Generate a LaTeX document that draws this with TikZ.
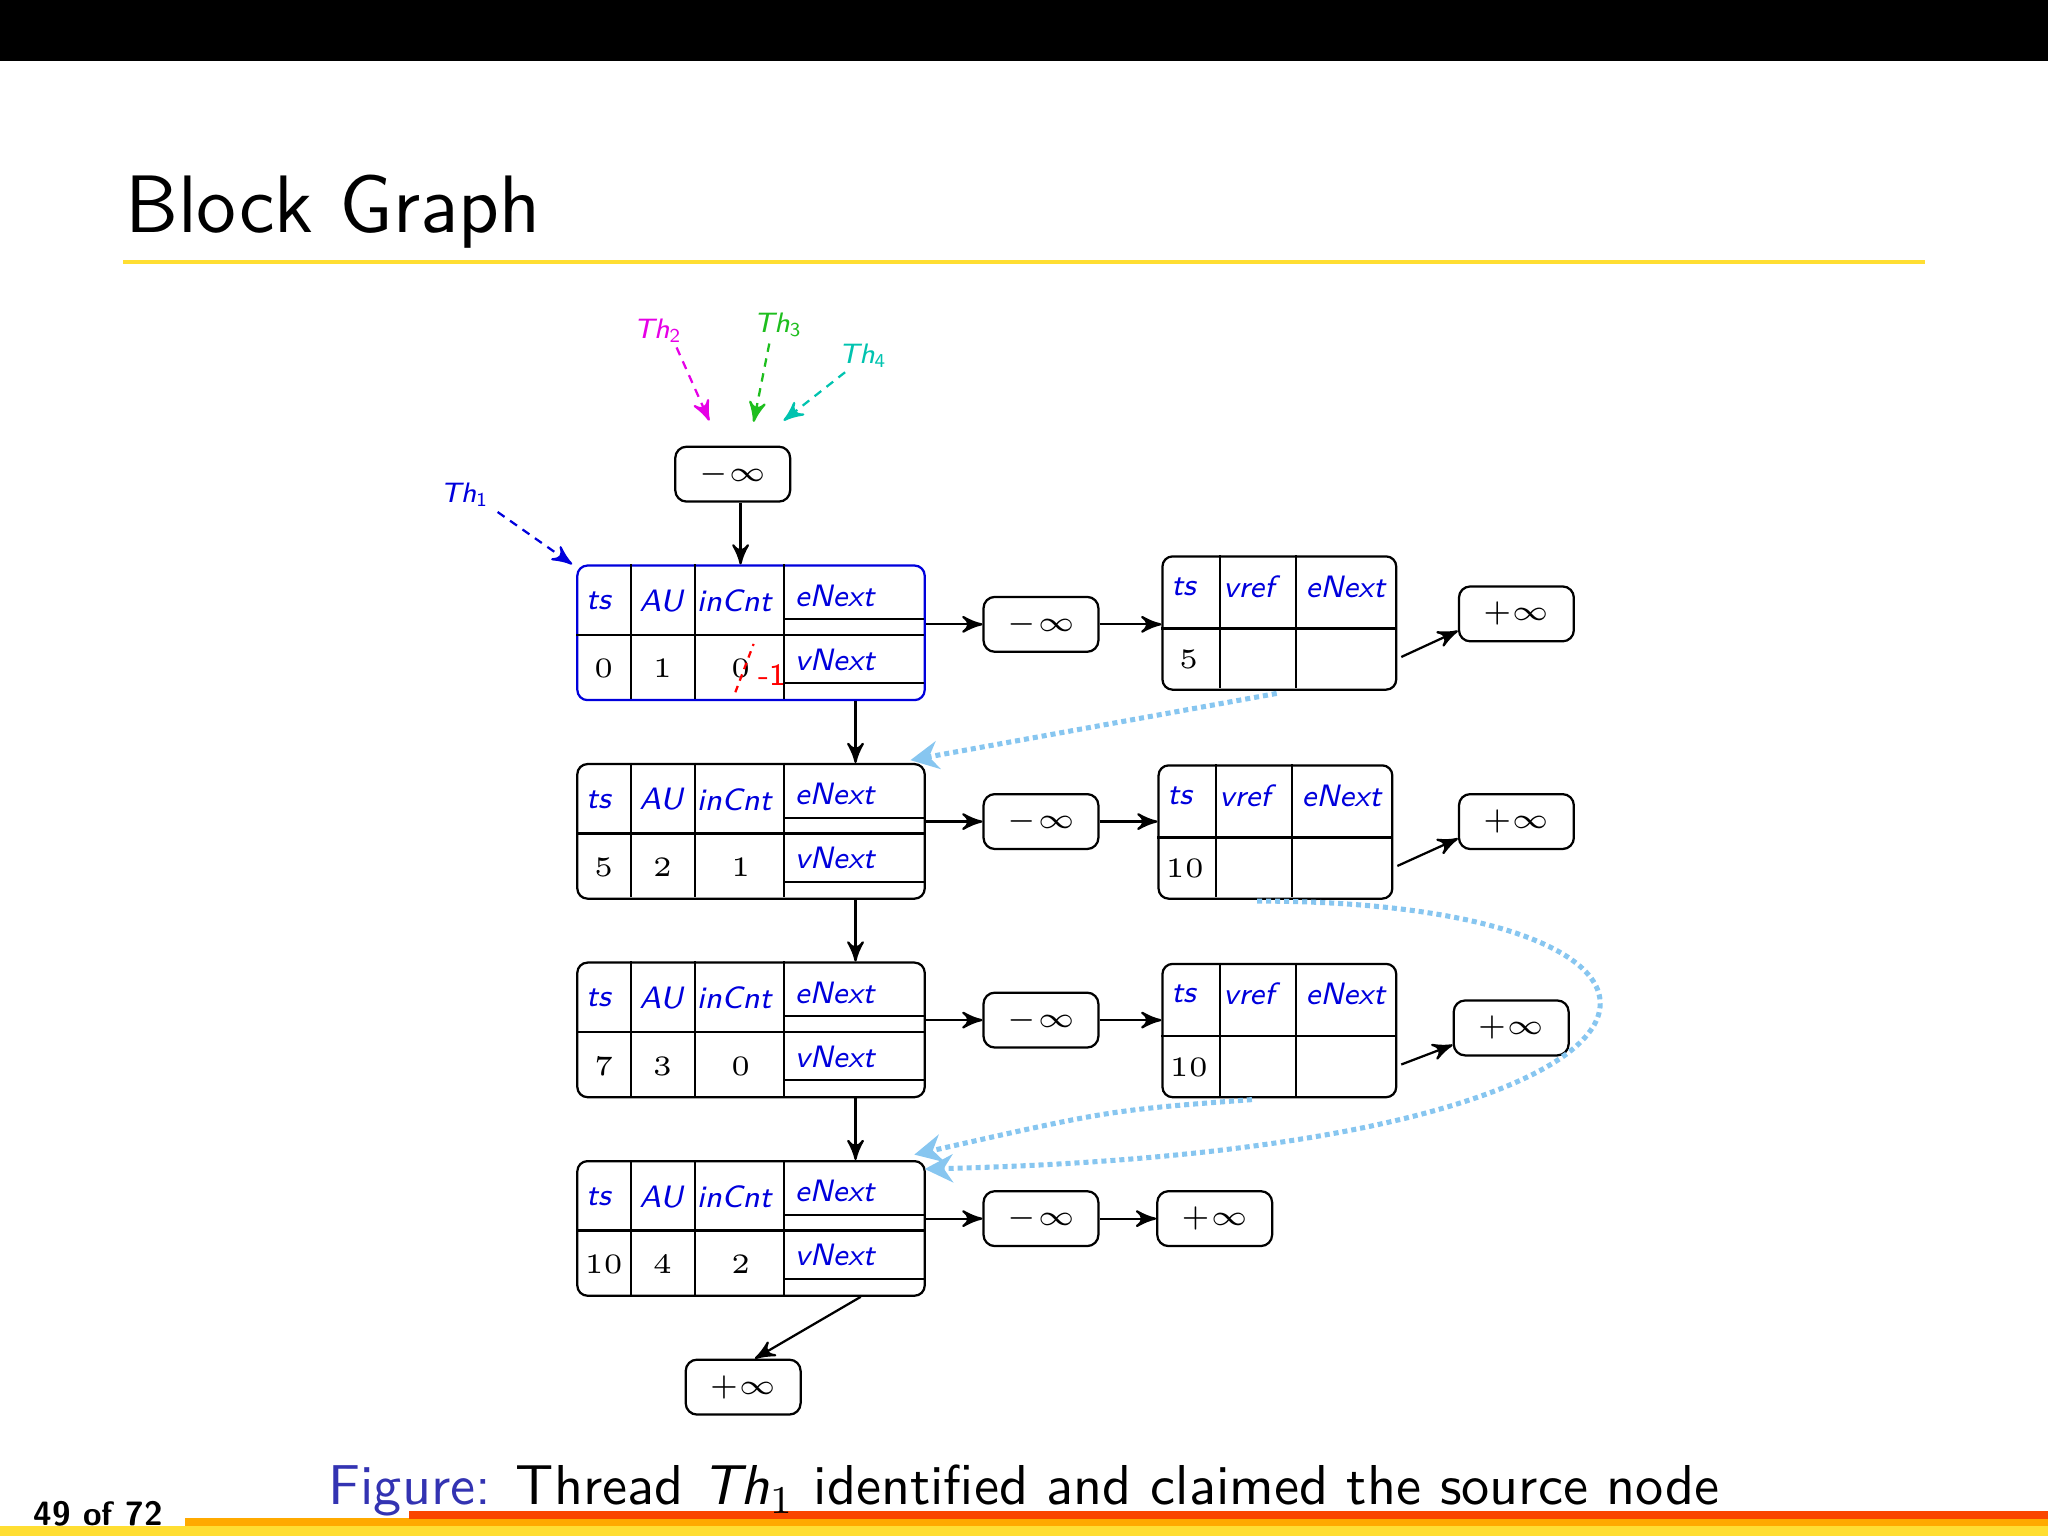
\documentclass[tikz,border=0pt]{standalone}
\usetikzlibrary{arrows, arrows.meta, positioning, calc}
\renewcommand{\familydefault}{\sfdefault}

\definecolor{fblue}{RGB}{0,0,220}
\definecolor{skyb}{RGB}{135,198,240}
\definecolor{thmag}{RGB}{230,0,230}
\definecolor{thgrn}{RGB}{30,190,30}
\definecolor{thcyn}{RGB}{0,195,175}
\definecolor{barylw}{RGB}{255,222,50}
\definecolor{barorg}{RGB}{255,170,0}
\definecolor{barred}{RGB}{250,70,0}
\definecolor{capblue}{RGB}{51,51,178}

\newcommand{\thsub}[1]{\raisebox{-0.7pt}{\fontsize{3.5}{4}\selectfont\upshape#1}}

\tikzset{
  blk/.style={draw, rounded corners=1.8pt, minimum width=2.171cm, minimum height=0.841cm, inner sep=0pt},
  vtx/.style={draw, rounded corners=1.8pt, minimum width=1.461cm, minimum height=0.833cm, inner sep=0pt},
  inf/.style={draw, rounded corners=2pt, minimum width=0.718cm, minimum height=0.343cm, inner sep=0pt, font=\fontsize{5.5}{6}\selectfont},
  lbl/.style={text=fblue, font=\fontsize{5.5}{6}\selectfont\itshape},
  val/.style={font=\fontsize{5.5}{6}\selectfont},
  thl/.style={font=\fontsize{5}{6}\selectfont\itshape},
  ptr/.style={->, >=stealth'},
  claim/.style={->, >=stealth', dash pattern=on 1.5pt off 1.2pt},
  hop/.style={-{Stealth[length=5pt,width=5pt]}, draw=skyb, line width=0.9pt, dash pattern=on 0.9pt off 0.7pt}
}

% block of the graph: name, left, top, ts, AU, inCnt, outline style
\newcommand{\blockrow}[7]{%
  \node[blk,#7] (#1) at (#2+133,#3+51.5) {};
  \begin{scope}[shift={(#1.north west)}]
    \draw (42,0) -- (42,103) (91,0) -- (91,103) (159,0) -- (159,103)
          (0,54) -- (266,54) (159,42) -- (266,42) (159,91) -- (266,91);
    \node[lbl] at (17,28) {ts};
    \node[lbl] at (65,28) {AU};
    \node[lbl] at (121,28) {inCnt};
    \node[lbl] at (198,24) {eNext};
    \node[lbl] at (198,73) {vNext};
    \node[val] at (21,80) {$#4$};
    \node[val] at (66,80) {$#5$};
    \node[val] at (126,80) {$#6$};
  \end{scope}}

% vertex table: name, left, top, ts
\newcommand{\vtxrow}[4]{%
  \node[vtx] (#1) at (#2+89.5,#3+51) {};
  \begin{scope}[shift={(#1.north west)}]
    \draw (45,0) -- (45,102) (103,0) -- (103,102) (0,56) -- (179,56);
    \node[lbl] at (17,24) {ts};
    \node[lbl] at (67,24) {vref};
    \node[lbl] at (141,24) {eNext};
    \node[val] at (21,80) {$#4$};
  \end{scope}}

\begin{document}
\begin{tikzpicture}[x=0.008163cm, y=-0.008163cm]

  % slide frame
  \useasboundingbox (0,0) rectangle (1568,1176);
  \fill[black] (0,0) rectangle (1568,47);
  \node[anchor=base west, inner sep=0pt, font=\fontsize{14.5}{16}\selectfont] (title) at (95,178) {Block Graph};
  \fill[barylw] (94,199) rectangle (1474,202);
  \fill[barylw] (0,1168) rectangle (1568,1176);
  \fill[barorg] (142,1162) rectangle (1568,1168);
  \fill[barred] (313,1157) rectangle (1568,1163);
  \node[anchor=base west, inner sep=0pt, font=\fontsize{6}{7}\selectfont\bfseries] (pg) at (25,1168) {49 of 72};
  \node[anchor=base, inner sep=0pt, font=\fontsize{10}{12}\selectfont] (cap) at (784,1152)
    {\textcolor{capblue}{Figure:} Thread \textit{Th}$_1$ identified and claimed the source node};

  % blocks
  \blockrow{b1}{442}{433}{0}{1}{0}{draw=fblue}
  \blockrow{b2}{442}{585}{5}{2}{1}{}
  \blockrow{b3}{442}{737}{7}{3}{0}{}
  \blockrow{b4}{442}{889}{10}{4}{2}{}

  % vertex tables
  \vtxrow{v1}{890}{426}{5}
  \vtxrow{v2}{887}{586}{10}
  \vtxrow{v3}{890}{738}{10}

  % sentinels
  \node[inf] (t)  at (561,363)  {$-\infty$};
  \node[inf] (m1) at (797,478)  {$-\infty$};
  \node[inf] (m2) at (797,629)  {$-\infty$};
  \node[inf] (m3) at (797,781)  {$-\infty$};
  \node[inf] (m4) at (797,933)  {$-\infty$};
  \node[inf] (p1) at (1161,470) {$+\infty$};
  \node[inf] (p2) at (1161,629) {$+\infty$};
  \node[inf] (p3) at (1157,787) {$+\infty$};
  \node[inf] (p4) at (930,933)  {$+\infty$};
  \node[inf] (q)  at (569,1062) {$+\infty$};

  % decrement of inCnt
  \draw[red, dash pattern=on 1.2pt off 1pt] (563,530) -- (577,493);
  \node[val, text=red] (dec) at (591,517) {-1};

  % edges
  \draw[ptr] ($(t.south)+(6,0)$) -- ($(t.south |- b1.north)+(6,0)$);
  \draw[ptr] ($(b1.south)+(80,0)$) -- ($(b2.north)+(80,0)$);
  \draw[ptr] ($(b2.south)+(80,0)$) -- ($(b3.north)+(80,0)$);
  \draw[ptr] ($(b3.south)+(80,0)$) -- ($(b4.north)+(80,0)$);
  \draw[ptr] ($(b4.south)+(84,0)$) -- ($(q.north)+(9,0)$);
  \foreach \i in {1,2,3,4}{
    \draw[ptr] (b\i.east |- m\i) -- (m\i);
  }
  \draw[ptr] (m1) -- (v1.west |- m1);
  \draw[ptr] (m2) -- (v2.west |- m2);
  \draw[ptr] (m3) -- (v3.west |- m3);
  \draw[ptr] (m4) -- (p4);
  \foreach \i in {1,2,3}{
    \draw[ptr] ($(v\i.east)+(3,26)$) -- ($(p\i.west)+(0,13)$);
  }

  % threads
  \node[thl, text=fblue] (th1) at (355,379) {Th\thsub{1}};
  \node[thl, text=thmag] (th2) at (503,253) {Th\thsub{2}};
  \node[thl, text=thgrn] (th3) at (595,249) {Th\thsub{3}};
  \node[thl, text=thcyn] (th4) at (660,272) {Th\thsub{4}};
  \coordinate (c1) at (438,432);
  \coordinate (c2) at (543,322);
  \coordinate (c3) at (577,323);
  \coordinate (c4) at (600,322);
  \draw[claim, fblue] (381,392) -- (c1);
  \draw[claim, thmag] (518,266) -- (c2);
  \draw[claim, thgrn] (589,263) -- (c3);
  \draw[claim, thcyn] (647,285) -- (c4);

  % vref links
  \coordinate (e1) at (697,582);
  \coordinate (e2) at (708,895);
  \coordinate (e3) at (700,884);
  \draw[hop] ($(v1.south)+(-2,2)$) -- (e1);
  \draw[hop] ($(v2.south)+(-14,1)$) .. controls (1350,690) and (1340,880) .. (e2);
  \draw[hop] ($(v3.south)+(-21,1)$) .. controls (850,850) .. (e3);

\end{tikzpicture}
\end{document}
